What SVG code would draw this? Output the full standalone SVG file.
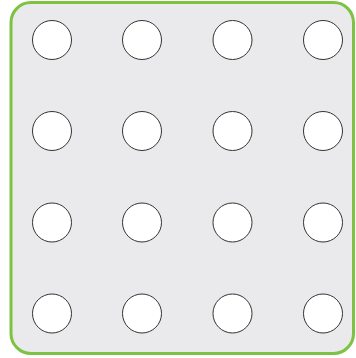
<svg xmlns="http://www.w3.org/2000/svg" width="356" height="358" viewBox="0 0 356 358">
<style>
.frame{fill:#eaeaec;stroke:#7dc242;stroke-width:3}
.dot{fill:#ffffff;stroke:#333333;stroke-width:1}
</style>
<rect class="frame" x="11" y="2.5" width="342.5" height="351" rx="20" ry="20"/>
<g id="c11"><circle class="dot" cx="52" cy="40" r="19.5"/></g>
<g id="c12"><circle class="dot" cx="142" cy="40" r="19.5"/></g>
<g id="c13"><circle class="dot" cx="232.5" cy="40" r="19.5"/></g>
<g id="c14"><circle class="dot" cx="323" cy="40" r="19.5"/></g>
<g id="c21"><circle class="dot" cx="52" cy="131" r="19.5"/></g>
<g id="c22"><circle class="dot" cx="142" cy="131" r="19.5"/></g>
<g id="c23"><circle class="dot" cx="232.5" cy="131" r="19.5"/></g>
<g id="c24"><circle class="dot" cx="323" cy="131" r="19.5"/></g>
<g id="c31"><circle class="dot" cx="52" cy="222.5" r="19.5"/></g>
<g id="c32"><circle class="dot" cx="142" cy="222.5" r="19.5"/></g>
<g id="c33"><circle class="dot" cx="232.5" cy="222.5" r="19.5"/></g>
<g id="c34"><circle class="dot" cx="323" cy="222.5" r="19.5"/></g>
<g id="c41"><circle class="dot" cx="52" cy="313.5" r="19.5"/></g>
<g id="c42"><circle class="dot" cx="142" cy="313.5" r="19.5"/></g>
<g id="c43"><circle class="dot" cx="232.5" cy="313.5" r="19.5"/></g>
<g id="c44"><circle class="dot" cx="323" cy="313.5" r="19.5"/></g>
<g id="connectors"></g>
</svg>
